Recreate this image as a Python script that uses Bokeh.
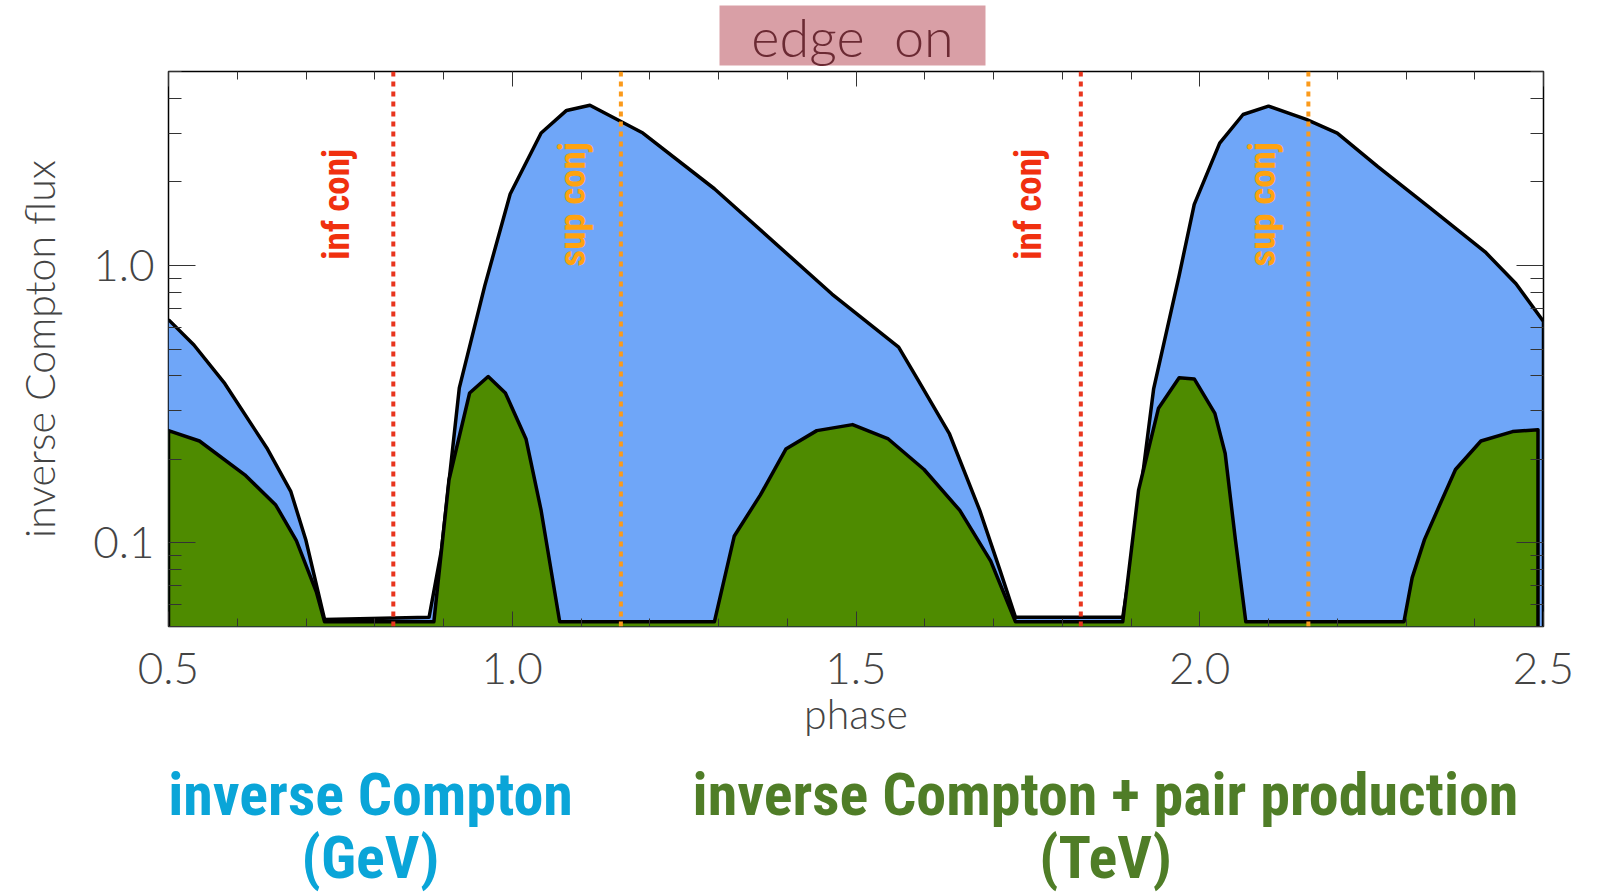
import numpy as np
from bokeh.plotting import figure
from bokeh.layouts import column
from bokeh.models import (FixedTicker, LinearAxis, LogAxis, Span, Range1d,
                          CustomJSTickFormatter, PrintfTickFormatter)
from bokeh.core.properties import value
from bokeh.embed import file_html
from bokeh.resources import INLINE

# ---------------- data ----------------
blue_phase = [0.500, 0.537, 0.582, 0.644, 0.678, 0.700, 0.727, 0.879, 0.897, 0.923,
              0.960, 0.997, 1.042, 1.079, 1.113, 1.190, 1.294, 1.465, 1.562, 1.591,
              1.636, 1.680, 1.710, 1.732, 1.888, 1.903, 1.933, 1.970, 1.992, 2.029,
              2.063, 2.100, 2.155, 2.200, 2.259, 2.334, 2.415, 2.460, 2.500, 2.500]
blue_flux = [0.638, 0.517, 0.375, 0.218, 0.153, 0.102, 0.053, 0.054, 0.094, 0.362,
             0.844, 1.81, 3.0, 3.62, 3.78, 3.0, 1.89, 0.789, 0.508, 0.384,
             0.247, 0.131, 0.079, 0.054, 0.054, 0.094, 0.36, 0.92, 1.66, 2.76,
             3.50, 3.75, 3.36, 3.0, 2.27, 1.62, 1.12, 0.859, 0.628, 0.05]

green_phase = [0.500, 0.500, 0.545, 0.611, 0.656, 0.686, 0.715, 0.727, 0.886, 0.908,
               0.938, 0.965, 0.990, 1.020, 1.042, 1.069, 1.294, 1.323, 1.361, 1.398,
               1.443, 1.495, 1.547, 1.599, 1.651, 1.696, 1.732, 1.888, 1.911, 1.940,
               1.970, 1.992, 2.022, 2.037, 2.052, 2.067, 2.297, 2.309, 2.327, 2.349,
               2.372, 2.409, 2.455, 2.492, 2.492]
green_flux = [0.05, 0.254, 0.233, 0.176, 0.137, 0.102, 0.0667, 0.052, 0.052, 0.169,
              0.347, 0.398, 0.347, 0.237, 0.131, 0.052, 0.052, 0.106, 0.149, 0.218,
              0.254, 0.267, 0.237, 0.184, 0.131, 0.086, 0.052, 0.052, 0.155, 0.306,
              0.394, 0.39, 0.293, 0.21, 0.102, 0.052, 0.052, 0.075, 0.103, 0.137,
              0.184, 0.233, 0.252, 0.256, 0.05]

inf_conj = [0.827, 1.827]
sup_conj = [1.158, 2.158]
inf_text_x = [0.745, 1.751]
sup_text_x = [1.087, 2.091]
conj_text_y = 1.66

x_major = [0.5, 1.0, 1.5, 2.0, 2.5]
x_minor = [round(0.5 + 0.1 * i, 2) for i in range(21)]
y_major = [0.1, 1.0]
y_minor = [0.05, 0.06, 0.07, 0.08, 0.09, 0.2, 0.3, 0.4, 0.5, 0.6, 0.7, 0.8, 0.9,
           2, 3, 4, 5]
y_labels = {0.1: "0.1", 1.0: "1.0"}

title_text = "edge\u00a0\u00a0on"
caption_left = ["inverse Compton", "(GeV)"]
caption_right = ["inverse Compton + pair production", "(TeV)"]

YMIN, YMAX = 0.05, 5.0

thin_font = "Lato Light"
cond_font = "'Roboto Condensed', 'DejaVu Sans Condensed', sans-serif"
label_color = "#444444"

FRAME_L, FRAME_R = 168, 1543   # frame edges in page pixels (shared by the column)


def bare(fig):
    fig.grid.visible = False
    fig.outline_line_color = None
    fig.background_fill_color = "white"
    fig.border_fill_color = "white"
    fig.min_border = 0


# ---------------- top strip with title box ----------------
TOP_H = 68
top_fig = figure(width=1600, height=TOP_H, x_range=Range1d(FRAME_L, FRAME_R),
                 y_range=Range1d(TOP_H, 0), output_backend="svg",
                 toolbar_location=None, x_axis_location=None,
                 y_axis_location=None)
bare(top_fig)
top_fig.quad(left=[719], right=[985], top=[5], bottom=[65],
             fill_color="#d99fa6", line_color=None)
top_fig.text(x=[852], y=[36], text=[title_text], text_align="center",
             text_baseline="middle", text_font=value(thin_font),
             text_font_size="54px", text_color="#6b2a33")

# ---------------- main plot ----------------
MAIN_H = 688
p = figure(width=1600, height=MAIN_H, x_range=(0.5, 2.5), y_range=(YMIN, YMAX),
           y_axis_type="log", output_backend="svg", toolbar_location=None,
           min_border_left=FRAME_L, min_border_right=1600 - FRAME_R,
           min_border_top=71 - TOP_H, min_border_bottom=TOP_H + MAIN_H - 626)
p.background_fill_color = "white"
p.border_fill_color = "white"
p.grid.visible = False
p.outline_line_color = "black"
p.outline_line_width = 1.5

p.varea(x=blue_phase, y1=[YMIN] * len(blue_phase), y2=blue_flux,
        fill_color="#6fa6f8")
p.line(blue_phase, blue_flux, line_color="black", line_width=3.5,
       line_join="round")
p.varea(x=green_phase, y1=[YMIN] * len(green_phase), y2=green_flux,
        fill_color="#4e8b00")
p.line(green_phase, green_flux, line_color="black", line_width=3.5,
       line_join="round")

for xv in inf_conj:
    p.add_layout(Span(location=xv, dimension="height", line_color="#e8351e",
                      line_width=4, line_dash="5 5"))
for xv in sup_conj:
    p.add_layout(Span(location=xv, dimension="height", line_color="#fb9a1b",
                      line_width=4, line_dash="5 5"))

p.text(x=inf_text_x, y=[conj_text_y] * 2, text=["inf conj"] * 2, angle=np.pi / 2,
       text_align="center", text_baseline="middle", text_color="#f0300f",
       text_font=value(cond_font), text_font_style="bold",
       text_font_size="37px")
p.text(x=sup_text_x, y=[conj_text_y] * 2, text=["sup conj"] * 2, angle=np.pi / 2,
       text_align="center", text_baseline="middle", text_color="#ffa30f",
       text_font=value(cond_font), text_font_style="bold",
       text_font_size="37px")

xaxis = p.xaxis[0]
yaxis = p.yaxis[0]
xaxis.ticker = FixedTicker(ticks=x_major, minor_ticks=x_minor)
xaxis.formatter = PrintfTickFormatter(format="%.1f")
xaxis.axis_label = "phase"
yaxis.ticker = FixedTicker(ticks=y_major, minor_ticks=y_minor)
yaxis.major_label_overrides = y_labels
yaxis.axis_label = "inverse Compton flux"

top = LinearAxis(ticker=FixedTicker(ticks=x_major, minor_ticks=x_minor),
                 formatter=CustomJSTickFormatter(code="return ''"))
right = LogAxis(ticker=FixedTicker(ticks=y_major, minor_ticks=y_minor),
                formatter=CustomJSTickFormatter(code="return ''"))
p.add_layout(top, "above")
p.add_layout(right, "right")

for ax in [xaxis, top]:
    ax.major_tick_in = 15
    ax.major_tick_out = 0
    ax.minor_tick_in = 8
    ax.minor_tick_out = 0
for ax in [yaxis, right]:
    ax.major_tick_in = 27
    ax.major_tick_out = 0
    ax.minor_tick_in = 13
    ax.minor_tick_out = 0

for ax in [xaxis, yaxis, top, right]:
    ax.axis_line_color = None
    ax.major_tick_line_color = "#333333"
    ax.minor_tick_line_color = "#333333"

for ax in [top, right]:
    ax.major_label_text_font_size = "1px"
    ax.major_label_standoff = 0

for ax in [xaxis, yaxis]:
    ax.major_label_text_font = thin_font
    ax.major_label_text_font_size = "44px"
    ax.major_label_text_color = label_color
    ax.axis_label_text_font = thin_font
    ax.axis_label_text_font_size = "41px"
    ax.axis_label_text_font_style = "normal"
    ax.axis_label_text_color = label_color

xaxis.major_label_standoff = 26
xaxis.axis_label_standoff = 2
yaxis.major_label_standoff = 14
yaxis.axis_label_standoff = 26

# ---------------- bottom captions ----------------
BOT_H = 894 - TOP_H - MAIN_H
bot = figure(width=1600, height=BOT_H, x_range=Range1d(FRAME_L, FRAME_R),
             y_range=Range1d(BOT_H, 0), output_backend="svg",
             toolbar_location=None, x_axis_location=None,
             y_axis_location=None)
bare(bot)
y0 = TOP_H + MAIN_H
bot.text(x=[370, 370], y=[794 - y0, 857 - y0], text=caption_left,
         text_align="center", text_baseline="middle", text_font=value(cond_font),
         text_font_style="bold", text_font_size="60px", text_color="#0aa5d8")
bot.text(x=[1105, 1105], y=[794 - y0, 857 - y0], text=caption_right,
         text_align="center", text_baseline="middle", text_font=value(cond_font),
         text_font_style="bold", text_font_size="60px", text_color="#4f7d27")

layout = column(top_fig, p, bot, spacing=0)
open("out.html", "w").write(file_html(layout, INLINE))
